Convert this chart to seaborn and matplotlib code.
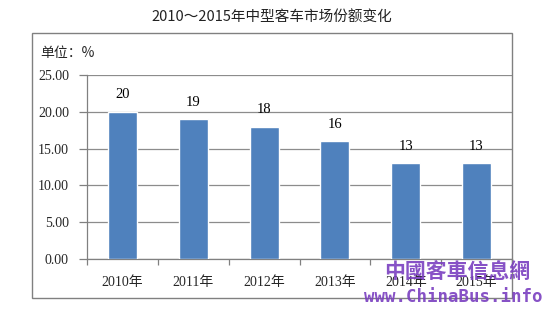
import matplotlib
matplotlib.use("Agg")
import matplotlib.pyplot as plt
import seaborn as sns
import pandas as pd
from matplotlib.patches import Rectangle

categories = ["2010年", "2011年", "2012年", "2013年", "2014年", "2015年"]
values = [20, 19, 18, 16, 13, 13]
yticks = [0, 5, 10, 15, 20, 25]
title = "2010～2015年中型客车市场份额变化"
unit_label = "单位：%"

sns.set_theme(style="white")
plt.rcParams['font.family'] = ['Liberation Serif', 'Noto Sans CJK SC', 'DejaVu Sans']

df = pd.DataFrame({"year": categories, "share": values})

fig = plt.figure(figsize=(5.45, 3.10), dpi=100)
fig.patch.set_facecolor("white")

# outer frame
fig.patches.append(Rectangle((32/545, 1-298/310), (512-32)/545, (298-33)/310,
                             transform=fig.transFigure, fill=False,
                             edgecolor="#808080", linewidth=1.0, zorder=0))

ax = fig.add_axes([87/545, 1-259/310, (512-87)/545, (259-75)/310])
sns.barplot(data=df, x="year", y="share", color="#4F81BD", width=0.41,
            saturation=1, ax=ax, zorder=3)

ax.set_ylim(0, 25)
ax.set_xlim(-0.5, len(categories) - 0.5)
ax.set_yticks(yticks)
ax.set_yticklabels([f"{v:.2f}" for v in yticks], fontsize=10)
ax.yaxis.grid(True, color="#8c8c8c", linewidth=0.9, zorder=0)
ax.set_axisbelow(True)

ax.set_xticks(range(len(categories)))
ax.set_xticklabels(categories, fontsize=10)
ax.tick_params(axis="x", length=0, pad=12)
ax.tick_params(axis="y", length=6, width=0.9, color="#808080", direction="out", left=True, pad=7)
# category boundary ticks
ax.set_xticks([i - 0.5 for i in range(len(categories) + 1)], minor=True)
ax.tick_params(axis="x", which="minor", length=4, width=0.9, color="#808080", direction="out", bottom=True)

for s in ["left", "bottom"]:
    ax.spines[s].set_color("#808080")
    ax.spines[s].set_linewidth(0.9)
ax.spines["top"].set_visible(False)
ax.spines["right"].set_visible(False)
ax.set_xlabel("")
ax.set_ylabel("")

for i, v in enumerate(values):
    ax.text(i, v + 1.4, f"{v}", ha="center", va="bottom", fontsize=10.5, color="black")

fig.text(272/545, 1-18/310, title, ha="center", va="center", fontsize=10.5,
         family=['Noto Sans CJK SC', 'DejaVu Sans'], color="#222222")
fig.text(40/545, 1-53/310, unit_label, ha="left", va="center", fontsize=10,
         family=['Noto Sans CJK SC', 'DejaVu Sans'])

# watermark
fig.text(457/545, 1-272/310, "中國客車信息網", ha="center", va="center", fontsize=15,
         family=['Noto Sans CJK TC', 'DejaVu Sans'], color="#7a3fc0", alpha=0.9,
         fontweight="bold")
fig.text(453/545, 1-297/310, "www.ChinaBus.info", ha="center", va="center", fontsize=12.5,
         family=['DejaVu Sans Mono'], color="#7a3fc0", alpha=0.9, fontweight="bold")

fig.savefig("out.png", dpi=100, facecolor="white")
